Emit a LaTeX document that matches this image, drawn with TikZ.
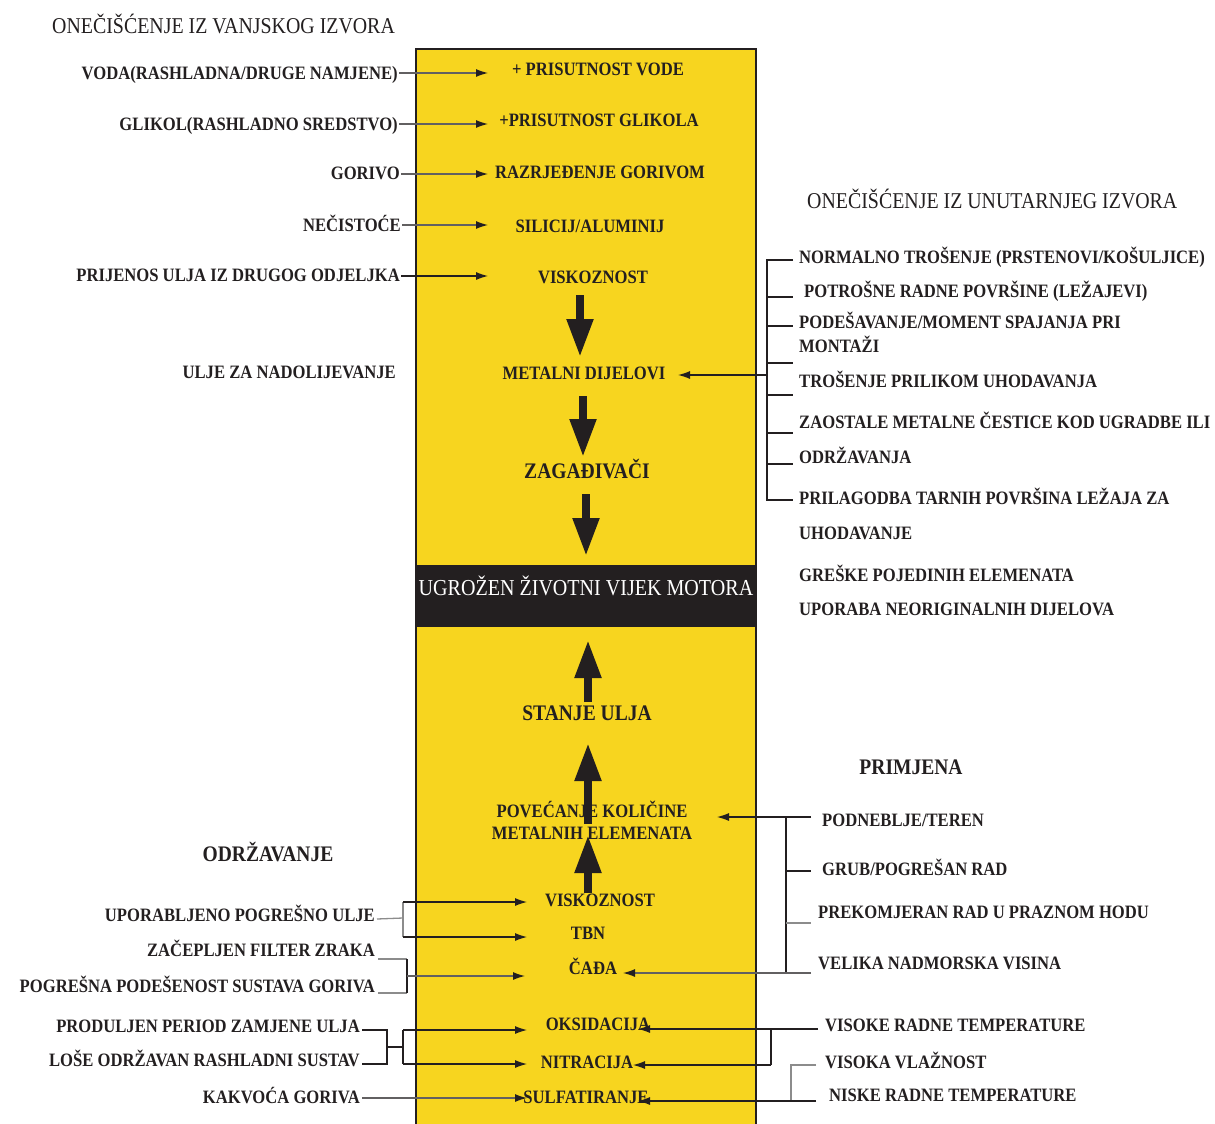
\documentclass[tikz,border=0pt]{standalone}
\usepackage{fontspec}
\setmainfont{Liberation Serif}[FakeStretch=0.92]
\newfontfamily\labfont{Liberation Serif}[FakeStretch=0.88]
\usetikzlibrary{arrows.meta}
\definecolor{ylw}{HTML}{F7D51F}
\definecolor{ink}{HTML}{231F20}
\definecolor{gline}{HTML}{8C8C8C}
\tikzset{
  lab/.style={inner sep=0pt, text=ink, yshift=-4pt, font=\labfont\fontsize{18.9}{23}\selectfont\bfseries},
  labL/.style={lab, anchor=mid west},
  labR/.style={lab, anchor=mid east},
  labC/.style={lab, anchor=mid},
  biglab/.style={labC, font=\labfont\fontsize{22.2}{26}\selectfont\bfseries},
  ttl/.style={inner sep=0pt, text=ink, yshift=-6pt, anchor=mid west, font=\labfont\fontsize{22.6}{27}\selectfont},
  ln/.style={draw=ink, line width=1.1pt},
  gln/.style={draw=gline, line width=1.3pt},
  arr/.style={draw=ink, line width=1.1pt, -{Latex[length=12pt,width=8pt,color=ink]}},
  garr/.style={draw=gline!60!ink, line width=1.2pt, -{Latex[length=12pt,width=8pt,color=ink]}},
  bigarr/.style={draw=ink, line width=8pt, -{Triangle[length=38pt,width=25pt]}},
}
\begin{document}
\begin{tikzpicture}[x=1pt,y=-1pt]
\useasboundingbox (0,0) rectangle (1215,1124);
% yellow column
\fill[ylw] (416,49) rectangle (756,1124);
\draw[ink, line width=1.2pt] (416,1124) -- (416,49) -- (756,49) -- (756,1124);
\fill[ink] (416,565) rectangle (756,627);
\node[inner sep=0pt, text=white, yshift=-5pt, anchor=mid, font=\labfont\fontsize{22.8}{27}\selectfont] (ugr) at (586,588) {UGROŽEN ŽIVOTNI VIJEK MOTORA};

% titles
\node[ttl] (t1) at (52,25) {ONEČIŠĆENJE IZ VANJSKOG IZVORA};
\node[ttl] (t2) at (807,200) {ONEČIŠĆENJE IZ UNUTARNJEG IZVORA};
\node[biglab, yshift=-1pt] (primj) at (911,767) {PRIMJENA};
\node[biglab, yshift=-1pt] (odrz) at (268,854) {ODRŽAVANJE};

% thick arrows (drawn below texts)
\coordinate (a1s) at (580,295); \coordinate (a1e) at (580,357);
\coordinate (a2s) at (583,396); \coordinate (a2e) at (583,457);
\coordinate (a3s) at (586,494); \coordinate (a3e) at (586,556);
\coordinate (u1s) at (588,702); \coordinate (u1e) at (588,640);
\coordinate (u2s) at (588,824); \coordinate (u2e) at (588,743);
\coordinate (u3s) at (588,893); \coordinate (u3e) at (588,835);
\draw[bigarr] (a1s) -- (a1e);
\draw[bigarr] (a2s) -- (a2e);
\draw[bigarr] (a3s) -- (a3e);
\draw[bigarr] (u1s) -- (u1e);
\draw[bigarr] (u2s) -- (u2e);
\draw[bigarr] (u3s) -- (u3e);

% left top labels
\node[labR] (voda) at (398,73) {VODA(RASHLADNA/DRUGE NAMJENE)};
\node[labR] (glik) at (398,124) {GLIKOL(RASHLADNO SREDSTVO)};
\node[labR] (goriv) at (400,173) {GORIVO};
\node[labR] (necis) at (401,225) {NEČISTOĆE};
\node[labR] (prij) at (400,275) {PRIJENOS ULJA IZ DRUGOG ODJELJKA};
\node[labR] (uzn) at (396,372) {ULJE ZA NADOLIJEVANJE};

% inner labels
\node[labC] (pvode) at (598,69) {+ PRISUTNOST VODE};
\node[labC] (pglik) at (599,120) {+PRISUTNOST GLIKOLA};
\node[labC] (razr) at (600,172) {RAZRJEĐENJE GORIVOM};
\node[labC] (sil) at (590,226) {SILICIJ/ALUMINIJ};
\node[labC] (visk) at (593,277) {VISKOZNOST};
\node[labC] (metal) at (584,373) {METALNI DIJELOVI};
\node[biglab] (zag) at (587,472) {ZAGAĐIVAČI};
\node[biglab] (stanje) at (587,714) {STANJE ULJA};
\node[labC] (pov1) at (592,811) {POVEĆANJE KOLIČINE};
\node[labC] (pov2) at (592,833) {METALNIH ELEMENATA};
\node[labC] (visk2) at (600,900) {VISKOZNOST};
\node[labC] (tbn) at (588,933) {TBN};
\node[labC] (cada) at (593,968) {ČAĐA};
\node[labC] (oks) at (598,1024) {OKSIDACIJA};
\node[labC] (nitr) at (587,1062) {NITRACIJA};
\node[labC] (sulf) at (586,1097) {SULFATIRANJE};

% right top labels
\node[labL] (r1) at (799,257) {NORMALNO TROŠENJE (PRSTENOVI/KOŠULJICE)};
\node[labL] (r2) at (804,291) {POTROŠNE RADNE POVRŠINE (LEŽAJEVI)};
\node[labL] (r3) at (799,322) {PODEŠAVANJE/MOMENT SPAJANJA PRI};
\node[labL] (r4) at (799,346) {MONTAŽI};
\node[labL] (r5) at (799,381) {TROŠENJE PRILIKOM UHODAVANJA};
\node[labL] (r6) at (799,422) {ZAOSTALE METALNE ČESTICE KOD UGRADBE ILI};
\node[labL] (r7) at (799,457) {ODRŽAVANJA};
\node[labL] (r8) at (799,498) {PRILAGODBA TARNIH POVRŠINA LEŽAJA ZA};
\node[labL] (r9) at (799,533) {UHODAVANJE};
\node[labL] (r10) at (799,575) {GREŠKE POJEDINIH ELEMENATA};
\node[labL] (r11) at (799,609) {UPORABA NEORIGINALNIH DIJELOVA};

% right bottom labels
\node[labL] (p1) at (822,820) {PODNEBLJE/TEREN};
\node[labL] (p2) at (822,869) {GRUB/POGREŠAN RAD};
\node[labL] (p3) at (818,912) {PREKOMJERAN RAD U PRAZNOM HODU};
\node[labL] (p4) at (818,963) {VELIKA NADMORSKA VISINA};
\node[labL] (p5) at (825,1025) {VISOKE RADNE TEMPERATURE};
\node[labL] (p6) at (825,1062) {VISOKA VLAŽNOST};
\node[labL] (p7) at (829,1095) {NISKE RADNE TEMPERATURE};

% left bottom labels
\node[labR] (l1) at (375,915) {UPORABLJENO POGREŠNO ULJE};
\node[labR] (l2) at (375,950) {ZAČEPLJEN FILTER ZRAKA};
\node[labR] (l3) at (375,986) {POGREŠNA PODEŠENOST SUSTAVA GORIVA};
\node[labR] (l4) at (360,1026) {PRODULJEN PERIOD ZAMJENE ULJA};
\node[labR] (l5) at (360,1060) {LOŠE ODRŽAVAN RASHLADNI SUSTAV};
\node[labR] (l6) at (360,1097) {KAKVOĆA GORIVA};

% ---- connectors: top left
\coordinate (s1) at (399,73);  \coordinate (e1) at (488,73);
\coordinate (s2) at (399,124); \coordinate (e2) at (488,124);
\coordinate (s3) at (401,174); \coordinate (e3) at (488,174);
\coordinate (s4) at (402,225); \coordinate (e4) at (488,225);
\coordinate (s5) at (401,276); \coordinate (e5) at (488,276);
\draw[garr] (s1) -- (e1);
\draw[garr] (s2) -- (e2);
\draw[garr] (s3) -- (e3);
\draw[garr] (s4) -- (e4);
\draw[arr] (s5) -- (e5);

% ---- right top bracket
\coordinate (bt) at (767,260); \coordinate (bb) at (767,500);
\draw[ln] (793,260) -- (bt) -- (bb) -- (793,500);
\foreach \yy in {297,326,363,395,433,464} \draw[ln] (767,\yy) -- (793,\yy);
\coordinate (bm) at (767,375); \coordinate (me) at (678,375);
\draw[arr] (bm) -- (me);

% ---- right bottom bracket (PRIMJENA)
\coordinate (pt) at (786,817); \coordinate (pb) at (786,972);
\draw[ln] (pt) -- (pb);
\draw[ln] (786,871) -- (811,871);
\draw[gln] (786,923) -- (811,923);
\coordinate (pa) at (811,817); \coordinate (pae) at (717,817);
\draw[arr] (pa) -- (pae);
\coordinate (pv) at (811,973); \coordinate (pve) at (623,973);
\draw[garr] (pv) -- (pve);

% ---- temperature / humidity
\coordinate (vt) at (818,1029); \coordinate (vte) at (638,1029);
\draw[arr] (vt) -- (vte);
\coordinate (vn) at (771,1065); \coordinate (vne) at (633,1065);
\draw[ln] (771,1029) -- (vn);
\draw[arr] (vn) -- (vne);
\draw[gln] (816,1065) -- (791,1065) -- (791,1101);
\coordinate (nt) at (816,1101); \coordinate (nte) at (638,1101);
\draw[arr] (nt) -- (nte);

% ---- left bottom
\draw[gln] (l1.mid east) ++(2,0) -- (403,918);
\draw[gln] (403,902) -- (403,937);
\coordinate (k1) at (403,902); \coordinate (k1e) at (527,902);
\coordinate (k2) at (403,937); \coordinate (k2e) at (527,937);
\draw[arr] (k1) -- (k1e);
\draw[arr] (k2) -- (k2e);

\draw[gln] (378,959) -- (407,959);
\draw[gln] (378,993) -- (407,993);
\draw[ln] (407,959) -- (407,993);
\coordinate (k3) at (407,976); \coordinate (k3e) at (525,976);
\draw[garr] (k3) -- (k3e);

\draw[ln] (362,1030) -- (387,1030) -- (387,1064) -- (362,1064);
\draw[ln] (387,1047) -- (403,1047);
\draw[ln] (403,1030) -- (403,1064);
\coordinate (k4) at (403,1030); \coordinate (k4e) at (527,1030);
\coordinate (k5) at (403,1064); \coordinate (k5e) at (527,1064);
\draw[arr] (k4) -- (k4e);
\draw[arr] (k5) -- (k5e);

\coordinate (k6) at (362,1098); \coordinate (k6e) at (527,1098);
\draw[garr] (k6) -- (k6e);
\end{tikzpicture}
\end{document}
